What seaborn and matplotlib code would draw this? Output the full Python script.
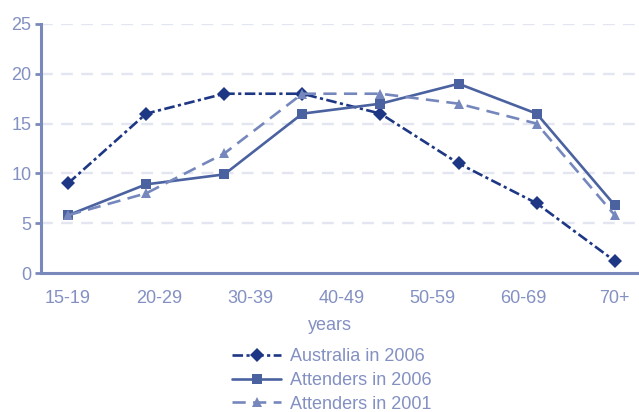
# plot.py - age profile of attenders vs Australian population

import seaborn as sns
import matplotlib.pyplot as plt
import pandas as pd
import numpy as np

# Data (8 points per series, 7 age labels)
age_labels = ['15-19', '20-29', '30-39', '40-49', '50-59', '60-69', '70+']
australia_2006 = [9, 16, 18, 18, 16, 11, 7, 1.2]
attenders_2006 = [5.8, 8.9, 9.9, 16, 17, 19, 16, 6.8]
attenders_2001 = [5.8, 8, 12, 18, 18, 17, 15, 5.8]

series = ['Australia in 2006', 'Attenders in 2006', 'Attenders in 2001']
n = len(australia_2006)
df = pd.DataFrame({
    'pos': list(range(n)) * 3,
    'pct': australia_2006 + attenders_2006 + attenders_2001,
    'Series': [series[0]] * n + [series[1]] * n + [series[2]] * n,
})

colors = {series[0]: '#1e3784', series[1]: '#4b62a0', series[2]: '#7587bc'}
markers = {series[0]: 'D', series[1]: 's', series[2]: '^'}
dashes = {series[0]: (4, 1.3, 1.2, 1.3), series[1]: '', series[2]: (5, 2.8)}

axis_col = '#7a89bb'
text_col = '#8390c2'
grid_col = '#e3e6f0'

sns.set_style('white')
plt.rcParams['font.family'] = ['Liberation Sans', 'DejaVu Sans']

fig = plt.figure(figsize=(6.39, 4.12), dpi=100)
ax = fig.add_axes([41 / 639, 139 / 412, 598 / 639, 249 / 412])

sns.lineplot(data=df, x='pos', y='pct', hue='Series', style='Series',
             hue_order=series, style_order=series, palette=colors,
             markers=markers, dashes=dashes, linewidth=1.9,
             markersize=7, markeredgewidth=0, ax=ax)

ax.set_xlim(-0.346, 7.31)
ax.set_ylim(0, 25)
ax.set_yticks([0, 5, 10, 15, 20, 25])
ax.set_xticks(np.linspace(0, n - 1, len(age_labels)))
ax.set_xticklabels(age_labels)

for y in [5, 10, 15, 20, 25]:
    ax.axhline(y, color=grid_col, lw=1.7, ls=(0, (5, 3.5)), zorder=0)

for side in ['top', 'right']:
    ax.spines[side].set_visible(False)
for side in ['left', 'bottom']:
    ax.spines[side].set_color(axis_col)
    ax.spines[side].set_linewidth(2.2)

ax.tick_params(axis='y', length=4, width=2, color=axis_col, pad=3,
               labelsize=13, labelcolor=text_col, left=True)
ax.tick_params(axis='x', length=0, pad=12, labelsize=13, labelcolor=text_col)
ax.set_xlabel('')
ax.set_ylabel('')

fig.text(330 / 639, 1 - 325 / 412, 'years', ha='center', va='center',
         fontsize=13, color=text_col)

handles, labels = ax.get_legend_handles_labels()
ax.legend(handles, labels, loc='upper center', frameon=False,
          bbox_to_anchor=(332 / 639, 1 - 339 / 412),
          bbox_transform=fig.transFigure, fontsize=13,
          labelcolor=text_col, handlelength=2.7, handletextpad=0.5,
          labelspacing=0.38, borderpad=0)

plt.savefig('out.png', dpi=100)
